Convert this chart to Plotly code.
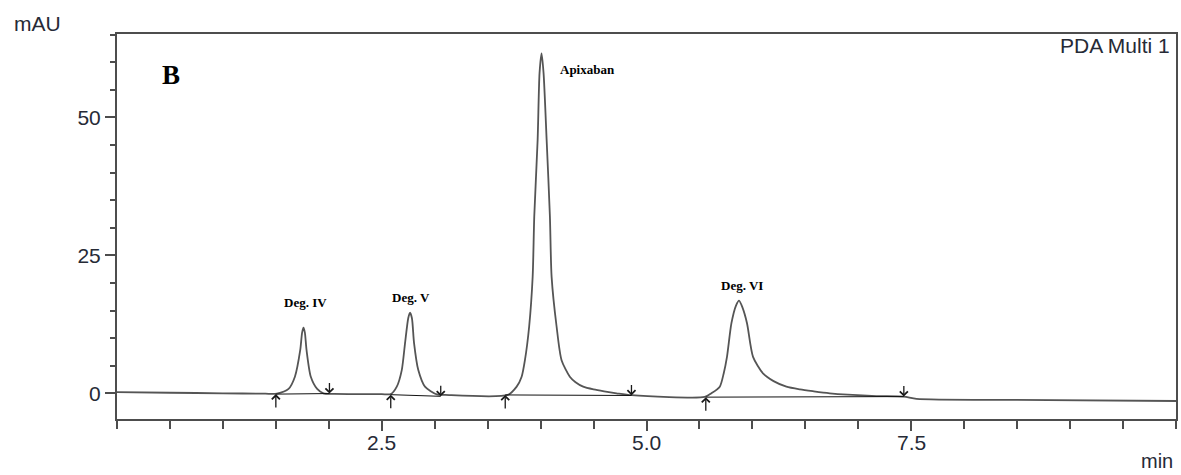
import plotly.graph_objects as go

# PDA Multi 1 chromatogram, panel B (retention time in min, absorbance in mAU)
t_min = [0.00, 0.50, 1.00, 1.40, 1.51, 1.62, 1.68, 1.73, 1.748, 1.761, 1.774, 1.79, 1.83, 1.89, 1.95,
         2.05, 2.50, 2.585, 2.642, 2.689, 2.72, 2.75, 2.767, 2.785, 2.805, 2.845, 2.908, 3.02, 3.10,
         3.69, 3.774, 3.821, 3.852, 3.892, 3.925, 3.94, 3.972, 3.99, 4.009, 4.028, 4.057, 4.088, 4.104,
         4.151, 4.198, 4.276, 4.33, 4.402, 4.50, 4.60, 4.717, 4.86, 5.55, 5.613, 5.692, 5.729, 5.76,
         5.802, 5.845, 5.874, 5.905, 5.949, 6.006, 6.10, 6.20, 6.321, 6.45, 6.58, 6.73, 6.90, 7.17,
         7.43, 7.55, 8.50, 10.00]
signal_mau = [0.20, 0.10, 0.00, -0.08, -0.05, 0.8, 3.0, 7.8, 11.0, 11.9, 11.0, 7.8, 3.0, 0.8, 0.0,
              -0.10, -0.15, -0.15, 1.2, 4.2, 9.1, 13.6, 14.6, 13.6, 9.1, 4.2, 1.2, -0.2, -0.3,
              -0.3, 1.2, 3.0, 6.0, 12.1, 21.1, 32.0, 45.9, 58.0, 61.6, 58.0, 45.9, 32.0, 21.1,
              12.1, 6.0, 3.0, 2.0, 1.2, 0.7, 0.35, 0.0, -0.35, -0.65, 0.0, 1.2, 3.6, 6.6,
              12.7, 15.9, 16.8, 15.6, 12.7, 6.6, 3.6, 2.2, 1.2, 0.7, 0.35, 0.0, -0.25, -0.5,
              -0.6, -1.0, -1.2, -1.4]

# Integration marks: peak start / end times and baseline levels there
peak_start = [1.50, 2.585, 3.666, 5.56]
peak_start_level = [-0.15, -0.25, -0.3, -0.7]
peak_end = [2.006, 3.057, 4.858, 7.43]
peak_end_level = [-0.05, -0.55, -0.4, -0.6]

# Peak names and label anchor positions
peak_names = ["Deg. IV", "Deg. V", "Apixaban", "Deg. VI"]
label_t = [1.777, 2.776, 4.446, 5.90]
label_mau = [16.5, 17.4, 58.6, 19.6]

x_ticks = [2.5, 5.0, 7.5]
y_ticks = [0, 25, 50]

fig = go.Figure()

fig.add_trace(go.Scatter(
    x=t_min, y=signal_mau, mode="lines",
    line=dict(color="#555555", width=1.8, shape="spline", smoothing=0.7),
    hoverinfo="skip", showlegend=False,
))

# Integration baselines drawn between start and end of each peak
bx, by = [], []
for s, sl, e, el in zip(peak_start, peak_start_level, peak_end, peak_end_level):
    bx += [s, e, None]
    by += [sl, el, None]
fig.add_trace(go.Scatter(
    x=bx, y=by, mode="lines", line=dict(color="#111111", width=1),
    hoverinfo="skip", showlegend=False,
))

# Start arrows (pointing up) and end arrows (pointing down)
for s, sl in zip(peak_start, peak_start_level):
    fig.add_annotation(x=s, y=sl, ax=0, ay=15, xref="x", yref="y", axref="pixel", ayref="pixel",
                       showarrow=True, arrowhead=4, arrowsize=1.2, arrowwidth=1.3,
                       arrowcolor="#1a1a1a", text="")
for e, el in zip(peak_end, peak_end_level):
    fig.add_annotation(x=e, y=el, ax=0, ay=-12, xref="x", yref="y", axref="pixel", ayref="pixel",
                       showarrow=True, arrowhead=4, arrowsize=1.2, arrowwidth=1.3,
                       arrowcolor="#1a1a1a", text="")

serif_bold = "Liberation Serif, Times New Roman, serif"
for name, lt, lm in zip(peak_names, label_t, label_mau):
    fig.add_annotation(x=lt, y=lm, xref="x", yref="y", text="<b>%s</b>" % name,
                       showarrow=False, font=dict(family=serif_bold, size=13, color="#000000"),
                       xanchor="center", yanchor="middle")

sans = "Liberation Sans, Arial, sans-serif"
txt_color = "#262a36"

# Time-axis labels sit close under the tick marks
for v in x_ticks:
    fig.add_annotation(x=v, y=-0.0623, xref="x", yref="paper", text="%.1f" % v,
                       showarrow=False, xanchor="center", yanchor="middle",
                       font=dict(family=sans, size=21, color=txt_color))

fig.add_annotation(x=0.0405, y=0.894, xref="paper", yref="paper", text="<b>B</b>",
                   showarrow=False, xanchor="left", yanchor="middle",
                   font=dict(family=serif_bold, size=27, color="#000000"))
fig.add_annotation(x=0.9962, y=0.971, xref="paper", yref="paper", text="PDA Multi 1",
                   showarrow=False, xanchor="right", yanchor="middle",
                   font=dict(family=sans, size=21, color=txt_color))
fig.add_annotation(x=-0.099, y=1.026, xref="paper", yref="paper", text="mAU",
                   showarrow=False, xanchor="left", yanchor="middle",
                   font=dict(family=sans, size=21, color=txt_color))
fig.add_annotation(x=0.9987, y=-0.108, xref="paper", yref="paper", text="min",
                   showarrow=False, xanchor="right", yanchor="middle",
                   font=dict(family=sans, size=20, color=txt_color))

axis_color = "#4d4d4d"
fig.update_xaxes(
    range=[0, 10], tickmode="array", tickvals=x_ticks, showticklabels=False,
    ticks="outside", ticklen=10, tickwidth=2, tickcolor=axis_color,
    minor=dict(dtick=0.5, tick0=0, ticks="outside", ticklen=8, tickwidth=2, tickcolor=axis_color),
    showline=True, linecolor=axis_color, linewidth=2, mirror=True,
    showgrid=False, zeroline=False,
)
fig.update_yaxes(
    range=[-4.66, 65.1], tickmode="array", tickvals=y_ticks, ticktext=[str(v) for v in y_ticks],
    ticks="outside", ticklen=10, tickwidth=2, tickcolor=axis_color,
    minor=dict(dtick=5, tick0=0, ticks="outside", ticklen=5, tickwidth=2, tickcolor=axis_color),
    showline=True, linecolor=axis_color, linewidth=2, mirror=True,
    showgrid=False, zeroline=False,
    tickfont=dict(family=sans, size=21, color=txt_color),
)

fig.update_layout(
    width=1181, height=475,
    margin=dict(l=117, r=3, t=34, b=56),
    paper_bgcolor="white", plot_bgcolor="white",
    showlegend=False,
)

fig.write_html("out.html")
